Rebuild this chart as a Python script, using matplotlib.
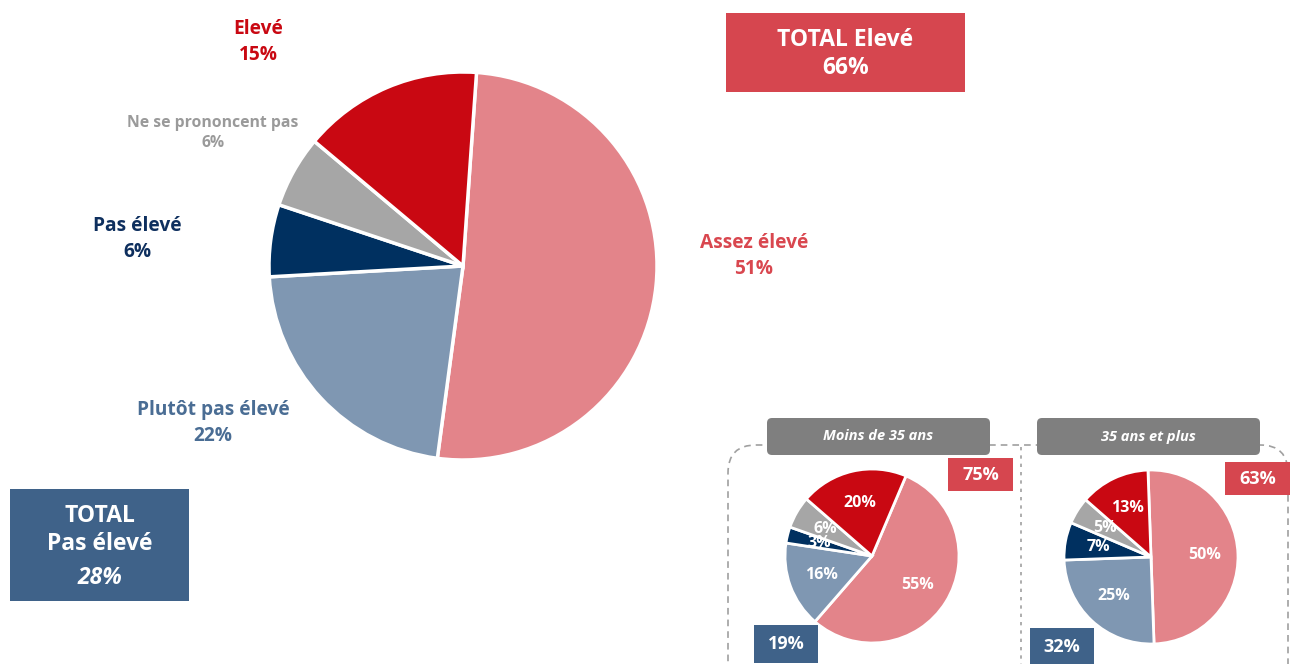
import numpy as np
import matplotlib.pyplot as plt
from matplotlib.patches import Rectangle, FancyBboxPatch

plt.rcParams['font.family'] = ['Open Sans', 'DejaVu Sans']

# main pie
categories = ['Assez élevé', 'Plutôt pas élevé', 'Pas élevé', 'Ne se prononcent pas', 'Elevé']
values = [51, 22, 6, 6, 15]
colors = ['#E3848A', '#7F97B2', '#003060', '#A6A6A6', '#C90812']
label_colors = ['#D9474F', '#4A6D94', '#0E2F5E', '#9A9A9A', '#C90812']

total_eleve = 66
total_pas_eleve = 28

# age groups
groups = ['Moins de 35 ans', '35 ans et plus']
young = [55, 16, 3, 6, 20]
older = [50, 25, 7, 5, 13]
group_eleve = [75, 63]
group_pas_eleve = [19, 32]

W, H = 1295, 664
fig = plt.figure(figsize=(W / 100, H / 100), dpi=100)
ax = fig.add_axes([0, 0, 1, 1])


def Y(y):
    return H - y


# main pie
ax.pie(values, colors=colors, startangle=86, counterclock=False,
       center=(463, Y(266)), radius=194, explode=[0.015, 0, 0, 0, 0],
       wedgeprops=dict(edgecolor='white', linewidth=2.5))

label_pos = [(754, 256), (213, 423), (137, 239), (213, 133), (258, 42)]
label_size = [13.8, 13.8, 13.8, 11.3, 13.8]
for cat, v, c, (x, y), fs in zip(categories, values, label_colors, label_pos, label_size):
    ax.text(x, Y(y), f'{cat}\n{v}%', color=c, fontsize=fs, fontweight='bold',
            ha='center', va='center', linespacing=1.4)

# total boxes
ax.add_patch(Rectangle((726, Y(92)), 239, 79, facecolor='#D6464F', edgecolor='none'))
ax.text(845.5, Y(54), f'TOTAL Elevé\n{total_eleve}%', color='white', fontsize=16.5,
        fontweight='bold', ha='center', va='center', linespacing=1.2)

ax.add_patch(Rectangle((10, Y(601)), 179, 112, facecolor='#3F6289', edgecolor='none'))
ax.text(99.5, Y(530), 'TOTAL\nPas élevé', color='white', fontsize=16.5,
        fontweight='bold', ha='center', va='center', linespacing=1.2)
ax.text(99.5, Y(578), f'{total_pas_eleve}%', color='white', fontsize=16.5,
        fontweight='bold', style='italic', ha='center', va='center')

# dashed frame around age groups
ax.add_patch(FancyBboxPatch((728, Y(700)), 560, 255,
                            boxstyle='round,pad=0,rounding_size=28',
                            facecolor='none', edgecolor='#A0A0A0',
                            linestyle=(0, (4, 3)), linewidth=1.2))
ax.plot([1021, 1021], [Y(447), Y(664)], color='#A0A0A0', linestyle=(0, (2, 3)), linewidth=1.2)

small = [
    (young, (872, 556), 67, (767, 418), (948, 458), (754, 625)),
    (older, (1151, 557), 92, (1037, 418), (1225, 462), (1030, 628)),
]
for (vals, (cx, cy), sa, hdr, bx_r, bx_b), name, ge, gp in zip(small, groups, group_eleve, group_pas_eleve):
    wedges, texts = ax.pie(vals, colors=colors, startangle=sa, counterclock=False,
                           center=(cx, Y(cy)), radius=87,
                           labels=[f'{v}%' for v in vals], labeldistance=0.62,
                           wedgeprops=dict(edgecolor='white', linewidth=2),
                           textprops=dict(color='white', fontsize=11.5, fontweight='bold'))
    for t in texts:
        t.set_ha('center')
        t.set_va('center')
    ax.add_patch(FancyBboxPatch((hdr[0], Y(hdr[1] + 37)), 223, 37,
                                boxstyle='round,pad=0,rounding_size=5',
                                facecolor='#7F7F7F', edgecolor='none'))
    ax.text(hdr[0] + 111.5, Y(hdr[1] + 18.5), name, color='white', fontsize=10.5,
            fontweight='bold', style='italic', ha='center', va='center')
    ax.add_patch(Rectangle((bx_r[0], Y(bx_r[1] + 33)), 65, 33, facecolor='#D6464F', edgecolor='none'))
    ax.text(bx_r[0] + 32.5, Y(bx_r[1] + 16.5), f'{ge}%', color='white', fontsize=13,
            fontweight='bold', ha='center', va='center')
    ax.add_patch(Rectangle((bx_b[0], Y(bx_b[1] + 38)), 64, 38, facecolor='#3F6289', edgecolor='none'))
    ax.text(bx_b[0] + 32, Y(bx_b[1] + 19), f'{gp}%', color='white', fontsize=13,
            fontweight='bold', ha='center', va='center')

ax.set_xlim(0, W)
ax.set_ylim(0, H)
ax.set_aspect('equal')
ax.axis('off')
fig.savefig('out.png', dpi=100)
